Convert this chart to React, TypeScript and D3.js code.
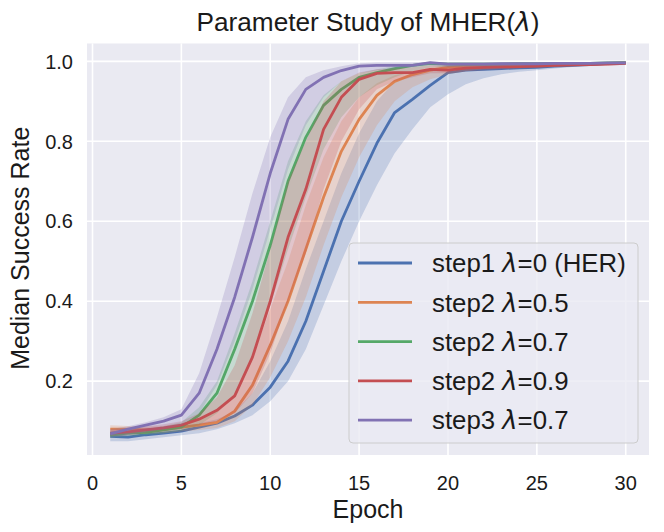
import React from "react";
import * as d3 from "d3";

const epochs = [1,2,3,4,5,6,7,8,9,10,11,12,13,14,15,16,17,18,19,20,21,22,23,24,25,26,27,28,29,30];

const labels = ["step1", "step2", "step2", "step2", "step3"];
const lambdaTexts = ["=0 (HER)", "=0.5", "=0.7", "=0.9", "=0.7"];
const colors = ["#4C72B0", "#DD8452", "#55A868", "#C44E52", "#8172B3"];

const blueMed = [0.062,0.06,0.066,0.07,0.075,0.085,0.095,0.113,0.14,0.185,0.25,0.35,0.475,0.6,0.7,0.795,0.872,0.905,0.94,0.972,0.978,0.98,0.982,0.984,0.985,0.988,0.99,0.992,0.995,0.997];
const blueLow = [0.05,0.05,0.055,0.06,0.065,0.07,0.08,0.095,0.115,0.15,0.2,0.28,0.39,0.5,0.6,0.69,0.77,0.83,0.885,0.918,0.943,0.958,0.968,0.974,0.978,0.982,0.986,0.99,0.992,0.995];
const blueHigh = [0.075,0.072,0.078,0.08,0.085,0.095,0.105,0.125,0.17,0.25,0.35,0.48,0.6,0.72,0.82,0.9,0.95,0.97,0.98,0.985,0.988,0.99,0.99,0.992,0.993,0.994,0.995,0.996,0.997,0.998];

const orangeMed = [0.08,0.08,0.078,0.08,0.085,0.09,0.097,0.125,0.19,0.29,0.4,0.53,0.66,0.775,0.855,0.915,0.95,0.967,0.978,0.985,0.988,0.99,0.99,0.991,0.992,0.993,0.994,0.995,0.995,0.996];
const orangeLow = [0.07,0.07,0.068,0.07,0.074,0.078,0.083,0.1,0.14,0.21,0.3,0.41,0.54,0.66,0.76,0.84,0.9,0.935,0.955,0.968,0.975,0.98,0.983,0.985,0.987,0.988,0.99,0.991,0.992,0.993];
const orangeHigh = [0.09,0.088,0.086,0.088,0.095,0.105,0.125,0.17,0.26,0.38,0.5,0.64,0.76,0.85,0.91,0.945,0.965,0.975,0.985,0.99,0.993,0.994,0.995,0.995,0.996,0.996,0.997,0.997,0.998,0.998];

const greenMed = [0.065,0.07,0.072,0.078,0.085,0.115,0.17,0.28,0.4,0.54,0.7,0.81,0.89,0.93,0.96,0.972,0.982,0.99,0.995,0.993,0.993,0.993,0.993,0.994,0.994,0.995,0.995,0.995,0.996,0.996];
const greenLow = [0.058,0.062,0.065,0.07,0.076,0.09,0.12,0.17,0.26,0.39,0.53,0.66,0.78,0.86,0.91,0.94,0.96,0.975,0.985,0.985,0.988,0.989,0.99,0.99,0.991,0.992,0.992,0.993,0.993,0.993];
const greenHigh = [0.075,0.078,0.08,0.087,0.097,0.135,0.2,0.32,0.45,0.6,0.75,0.85,0.915,0.95,0.97,0.98,0.988,0.993,0.997,0.997,0.997,0.997,0.997,0.997,0.998,0.998,0.998,0.998,0.998,0.998];

const redMed = [0.07,0.073,0.078,0.083,0.09,0.105,0.127,0.163,0.26,0.4,0.56,0.68,0.83,0.91,0.955,0.97,0.972,0.972,0.98,0.978,0.983,0.985,0.986,0.987,0.988,0.99,0.991,0.992,0.993,0.995];
const redLow = [0.062,0.065,0.07,0.074,0.08,0.09,0.1,0.12,0.17,0.27,0.4,0.52,0.68,0.8,0.88,0.93,0.95,0.96,0.97,0.97,0.975,0.978,0.98,0.982,0.984,0.986,0.988,0.989,0.99,0.991];
const redHigh = [0.078,0.082,0.087,0.092,0.1,0.12,0.16,0.24,0.37,0.53,0.7,0.8,0.9,0.95,0.972,0.98,0.982,0.985,0.99,0.99,0.99,0.991,0.992,0.993,0.994,0.995,0.996,0.996,0.997,0.998];

const purpleMed = [0.068,0.08,0.09,0.1,0.115,0.17,0.28,0.41,0.56,0.72,0.855,0.93,0.96,0.977,0.988,0.99,0.99,0.99,0.997,0.993,0.993,0.993,0.994,0.994,0.994,0.995,0.995,0.995,0.996,0.996];
const purpleLow = [0.058,0.065,0.072,0.08,0.09,0.12,0.19,0.3,0.43,0.58,0.73,0.84,0.91,0.95,0.97,0.978,0.982,0.985,0.99,0.985,0.986,0.987,0.988,0.989,0.99,0.991,0.992,0.992,0.993,0.993];
const purpleHigh = [0.08,0.087,0.097,0.11,0.13,0.22,0.36,0.51,0.67,0.81,0.91,0.96,0.978,0.988,0.995,0.997,0.997,0.997,0.999,0.998,0.998,0.998,0.998,0.998,0.998,0.998,0.998,0.998,0.998,0.998];

const seriesMed = [blueMed, orangeMed, greenMed, redMed, purpleMed];
const seriesLow = [blueLow, orangeLow, greenLow, redLow, purpleLow];
const seriesHigh = [blueHigh, orangeHigh, greenHigh, redHigh, purpleHigh];

const xTicks = [0, 5, 10, 15, 20, 25, 30];
const yTicks = [0.2, 0.4, 0.6, 0.8, 1.0];

const W = 664, H = 532;
const left = 87, right = 649, top = 43.5, bottom = 455;
const FONT = "'Liberation Sans', Arial, Helvetica, sans-serif";
const TXT = "#1a1a1a";

export default function App() {
  const x = d3.scaleLinear().domain([-0.31, 31.31]).range([left, right]);
  const y = d3.scaleLinear().domain([0.0153, 1.0447]).range([bottom, top]);

  const line = (vals: number[]) =>
    d3.line<number>().x((_, i) => x(epochs[i])).y((v) => y(v))(vals) || "";
  const band = (lo: number[], hi: number[]) =>
    d3.area<number>().x((_, i) => x(epochs[i])).y0((_, i) => y(lo[i])).y1((_, i) => y(hi[i]))(lo) || "";

  const legX = 349, legY = 243, legW = 289, legH = 200;
  const rowY = (i: number) => 263 + i * 39.3;

  return (
    <svg width={W} height={H} style={{ position: "absolute", left: 0, top: 0, background: "#fff" }} fontFamily={FONT}>
      <rect x={left} y={top} width={right - left} height={bottom - top} fill="#EAEAF2" />
      {xTicks.map((t) => (
        <line key={"gx" + t} x1={x(t)} x2={x(t)} y1={top} y2={bottom} stroke="#fff" strokeWidth={1.6} />
      ))}
      {yTicks.map((t) => (
        <line key={"gy" + t} x1={left} x2={right} y1={y(t)} y2={y(t)} stroke="#fff" strokeWidth={1.6} />
      ))}
      <g>
        {seriesMed.map((m, i) => (
          <g key={"s" + i}>
            <path d={line(m)} fill="none" stroke={colors[i]} strokeWidth={2.8} strokeLinejoin="round" />
            <path d={band(seriesLow[i], seriesHigh[i])} fill={colors[i]} fillOpacity={0.24} stroke="none" />
          </g>
        ))}
      </g>
      {xTicks.map((t) => (
        <text key={"tx" + t} x={x(t)} y={490} textAnchor="middle" fontSize={20} fill={TXT}>{t}</text>
      ))}
      {yTicks.map((t) => (
        <text key={"ty" + t} x={73} y={y(t)} dy="0.36em" textAnchor="end" fontSize={20} fill={TXT}>{t.toFixed(1)}</text>
      ))}
      <text x={(left + right) / 2} y={518} textAnchor="middle" fontSize={25} fill={TXT}>Epoch</text>
      <text transform={`translate(28.5, ${(top + bottom) / 2 - 1}) rotate(-90)`} textAnchor="middle" fontSize={25} fill={TXT}>Median Success Rate</text>
      <text x={(left + right) / 2} y={31} textAnchor="middle" fontSize={26.2} fill={TXT}>
        Parameter Study of MHER(<tspan fontFamily="'DejaVu Sans'" fontStyle="italic">λ</tspan>)
      </text>
      <rect x={legX} y={legY} width={legW} height={legH} rx={4} fill="#EAEAF2" fillOpacity={0.8} stroke="#cccccc" strokeWidth={1} />
      {labels.map((lab, i) => (
        <g key={"l" + i}>
          <line x1={358} x2={412} y1={rowY(i)} y2={rowY(i)} stroke={colors[i]} strokeWidth={2.8} />
          <text x={432} y={rowY(i)} dy="0.36em" fontSize={25.8} fill={TXT}>
            {lab} <tspan fontFamily="'DejaVu Sans'" fontStyle="italic">λ</tspan>{lambdaTexts[i]}
          </text>
        </g>
      ))}
    </svg>
  );
}
